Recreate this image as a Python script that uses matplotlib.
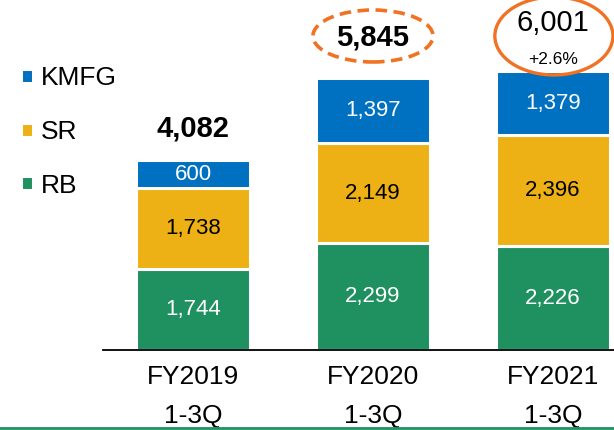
import matplotlib
matplotlib.use('Agg')
import matplotlib.pyplot as plt
from matplotlib.patches import Ellipse
from matplotlib.lines import Line2D

plt.rcParams['font.family'] = ['Liberation Sans', 'DejaVu Sans']

# data
periods = ['FY2019\n1-3Q', 'FY2020\n1-3Q', 'FY2021\n1-3Q']
segments = ['RB', 'SR', 'KMFG']
rb = [1744, 2299, 2226]
sr = [1738, 2149, 2396]
kmfg = [600, 1397, 1379]
totals = [4082, 5845, 6001]
growth_label = '+2.6%'

colors = {'RB': '#1F9160', 'SR': '#EEB115', 'KMFG': '#0070C0'}
label_colors = {'RB': 'white', 'SR': 'black', 'KMFG': 'white'}
orange = '#F07222'

fig = plt.figure(figsize=(6.14, 4.30), dpi=100)
ax = fig.add_axes([103 / 614, 1 - 350 / 430, 1 - 103 / 614, 350 / 430])

x = range(len(periods))
bottom = [0, 0, 0]
containers = {}
for name, vals in zip(segments, [rb, sr, kmfg]):
    bars = ax.bar(x, vals, 0.628, bottom=bottom, color=colors[name],
                  edgecolor='white', linewidth=2.2, label=name)
    ax.bar_label(bars, labels=[f'{v:,}' for v in vals], label_type='center',
                 color=label_colors[name], fontsize=16)
    containers[name] = bars
    bottom = [b + v for b, v in zip(bottom, vals)]

ax.set_xlim(-0.5, 2.339)
ax.set_ylim(0, 7527)

# totals on top
ax.text(0, totals[0] + 671, f'{totals[0]:,}', ha='center', va='center',
        fontsize=21, fontweight='bold')
ax.text(1, totals[1] + 886, f'{totals[1]:,}', ha='center', va='center',
        fontsize=21, fontweight='bold')
ax.text(2, totals[2] + 1031, f'{totals[2]:,}', ha='center', va='center',
        fontsize=21)
ax.text(2, totals[2] + 236, growth_label, ha='center', va='center', fontsize=12.5)

ax.add_patch(Ellipse((1.0, 6753), 0.667, 1118, fill=False, edgecolor=orange,
                     linewidth=2.6, linestyle=(0, (3.2, 1.8)), clip_on=False))
ax.add_patch(Ellipse((2.005, 6753), 0.656, 1677, fill=False, edgecolor=orange,
                     linewidth=2.4, clip_on=False))

ax.set_xticks(list(x))
ax.set_xticklabels(periods, fontsize=19, linespacing=1.75)
ax.tick_params(axis='x', length=0, pad=11)
ax.set_yticks([])
for s in ['top', 'left', 'right']:
    ax.spines[s].set_visible(False)
ax.spines['bottom'].set_linewidth(1.3)

handles = [containers[n] for n in reversed(segments)]
fig.legend(handles, list(reversed(segments)), loc='center left',
           bbox_to_anchor=(21 / 614, 1 - 132 / 430), frameon=False,
           fontsize=19, handlelength=0.45, handleheight=0.45,
           handletextpad=0.3, labelspacing=1.12, borderpad=0, borderaxespad=0)

# green rule at the bottom of the slide
fig.add_artist(Line2D([0, 1], [1 - 428 / 430, 1 - 428 / 430],
                      transform=fig.transFigure, color='#1F9160', linewidth=2))

fig.savefig('out.png', dpi=100)
